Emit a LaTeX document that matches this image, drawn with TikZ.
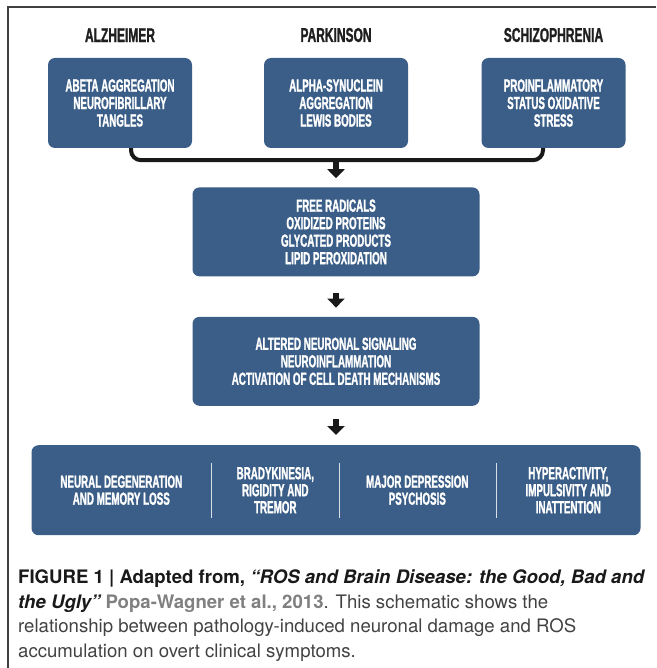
\documentclass[tikz,border=0pt]{standalone}
\usepackage{fontspec}
\setmainfont{TeX Gyre Heros}
\newfontfamily\condfont[FakeStretch=0.56, BoldFeatures={FakeBold=1.2}]{Liberation Sans}
\newfontfamily\headfont[FakeStretch=0.6, BoldFeatures={FakeBold=1.2}]{Liberation Sans}
\usepackage{tikz}
\usetikzlibrary{calc}
\usetikzlibrary{positioning}
\usetikzlibrary{arrows.meta}
\definecolor{rosblue}{RGB}{58,94,135}
\definecolor{citegrey}{RGB}{128,128,128}
\definecolor{captext}{RGB}{66,66,66}
\tikzset{
	header/.style={
		inner sep=0pt,
		text=black!88,
		font=\headfont\bfseries\fontsize{20}{22}\selectfont},
	causebox/.style={
		rectangle,
		rounded corners=7pt,
		fill=rosblue,
		text=white,
		minimum width=144pt,
		minimum height=90pt,
		inner sep=0pt,
		align=center,
		font=\condfont\bfseries\fontsize{17.5}{17.5}\selectfont},
	stagebox/.style={causebox, minimum width=287pt, minimum height=89pt},
	coltext/.style={
		inner sep=0pt,
		text=white,
		align=center,
		font=\condfont\bfseries\fontsize{17.5}{17}\selectfont},
	bracket/.style={draw=black!90, line width=4pt, rounded corners=10pt},
	flow/.style={draw=black!90, line width=6pt, -{Triangle[width=17pt,length=9pt]}},
	divider/.style={draw=white!80!rosblue, line width=1.5pt},
	frame/.style={draw=black!75, line width=1.3pt},
}

\begin{document}
\begin{tikzpicture}[x=1pt,y=-1pt]
		\useasboundingbox (0,0) rectangle (656,668);
		\draw[frame] (8,668) |- (656,7);
		
		% disease causes
		\node[causebox] (abeta) at (120,103) {ABETA AGGREGATION\\NEUROFIBRILLARY\\TANGLES};
		\node[causebox] (synuc) at (336,103) {ALPHA-SYNUCLEIN\\AGGREGATION\\LEWIS BODIES};
		\node[causebox] (inflam) at (553.5,103) {PROINFLAMMATORY\\STATUS OXIDATIVE\\STRESS};
		\node[header, above=15.5pt of abeta] (alz) {ALZHEIMER};
		\node[header, above=15.5pt of synuc] (park) {PARKINSON};
		\node[header, above=15.5pt of inflam] (schiz) {SCHIZOPHRENIA};
		
		% common stages
		\node[stagebox, below=39pt of synuc] (ros) {FREE RADICALS\\OXIDIZED PROTEINS\\GLYCATED PRODUCTS\\LIPID PEROXIDATION};
		\node[stagebox, below=40pt of ros] (signal) {ALTERED NEURONAL SIGNALING\\NEUROINFLAMMATION\\ACTIVATION OF CELL DEATH MECHANISMS};
		\node[causebox, minimum width=609pt, below=39pt of signal] (effects) {};
		
		% symptoms
		\node[coltext] (neuro) at ($(effects.west)+(90,0)$) {NEURAL DEGENERATION\\AND MEMORY LOSS};
		\node[coltext] (brady) at ($(effects.west)+(244,0)$) {BRADYKINESIA,\\RIGIDITY AND\\TREMOR};
		\node[coltext] (depress) at ($(effects.west)+(386,0)$) {MAJOR DEPRESSION\\PSYCHOSIS};
		\node[coltext] (hyper) at ($(effects.west)+(537,0)$) {HYPERACTIVITY,\\IMPULSIVITY AND\\INATTENTION};
		\foreach \dx in {180,308,465}
			\draw[divider] ($(effects.west)+(\dx,-27)$) -- ($(effects.west)+(\dx,28)$);
		
		% connectors
		\coordinate (merge) at ([yshift=-12pt]synuc.south);
		\draw[bracket] ([xshift=11pt]abeta.south) -- ([xshift=11pt]abeta.south |- merge) -| ([xshift=-10.5pt]inflam.south);
		\draw[flow] (merge) -- ([yshift=9pt]ros.north);
		\draw[flow] ([yshift=-16pt]ros.south) -- ([yshift=9pt]signal.north);
		\draw[flow] ([yshift=-13pt]signal.south) -- ([yshift=10pt]effects.north);
		
		% caption
		\node[anchor=north west, inner sep=0pt, align=left, text=captext,
			font=\fontsize{18.6}{24.5}\selectfont] (caption) at (18,570)
			{{\bfseries\color{black!90}FIGURE 1 | Adapted from, \itshape “ROS and Brain Disease: the Good, Bad and}\\
			{\bfseries\color{black!90}\itshape the Ugly”} {\bfseries\color{citegrey}Popa-Wagner et al., 2013}. This schematic shows the\\
			relationship between pathology-induced neuronal damage and ROS\\
			accumulation on overt clinical symptoms.};
		
		\end{tikzpicture}
\end{document}
